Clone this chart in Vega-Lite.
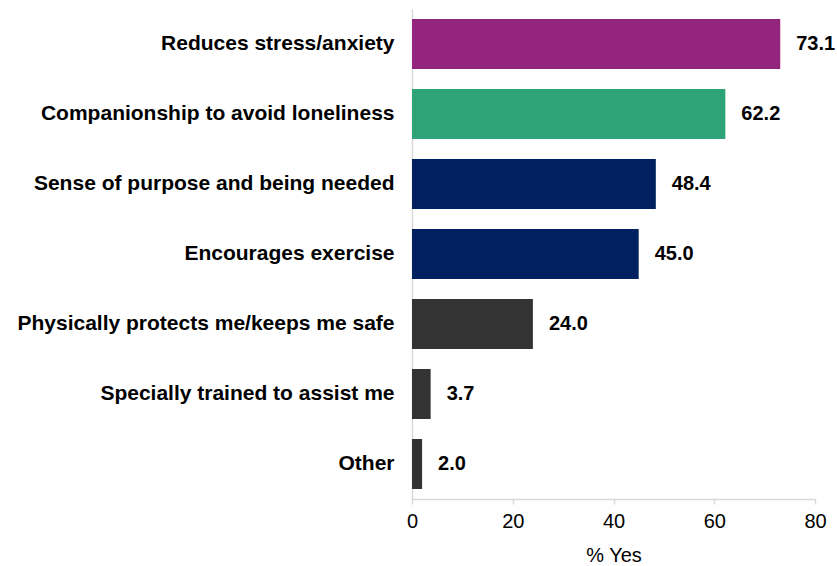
{
  "$schema": "https://vega.github.io/schema/vega-lite/v6.json",
  "width": 403,
  "height": 490,
  "padding": {"left": 16, "top": 9, "right": 0, "bottom": 0},
  "autosize": {"type": "pad"},
  "background": "white",
  "config": {"view": {"stroke": null}, "font": "Liberation Sans"},
  "data": {"values": [
    {"reason": "Reduces stress/anxiety", "pct": 73.1, "grp": "a"},
    {"reason": "Companionship to avoid loneliness", "pct": 62.2, "grp": "b"},
    {"reason": "Sense of purpose and being needed", "pct": 48.4, "grp": "c"},
    {"reason": "Encourages exercise", "pct": 45.0, "grp": "c"},
    {"reason": "Physically protects me/keeps me safe", "pct": 24.0, "grp": "d"},
    {"reason": "Specially trained to assist me", "pct": 3.7, "grp": "d"},
    {"reason": "Other", "pct": 2.0, "grp": "d"}
  ]},
  "encoding": {
    "y": {"field": "reason", "type": "nominal", "sort": null,
      "scale": {"paddingInner": 0.286, "paddingOuter": 0.143},
      "axis": {"title": null, "labelFont": "Liberation Sans", "labelFontWeight": "bold", "labelFontSize": 21, "labelColor": "#000000", "labelPadding": 18, "ticks": false, "domainColor": "#D9D9D9", "domainWidth": 1.5, "labelLimit": 500}},
    "x": {"field": "pct", "type": "quantitative",
      "scale": {"domain": [0, 80]},
      "axis": {"title": "% Yes", "values": [0, 20, 40, 60, 80], "grid": false, "labelFlush": false, "labelFontSize": 20, "labelColor": "#000000", "labelFontWeight": "normal", "titleFontSize": 20, "titleFontWeight": "normal", "titleColor": "#000000", "domainColor": "#D9D9D9", "domainWidth": 1.5, "tickColor": "#D9D9D9", "tickSize": 5, "tickWidth": 1.5, "labelPadding": 7, "titlePadding": 14}}
  },
  "layer": [
    {"mark": {"type": "bar"},
     "encoding": {"color": {"field": "grp", "type": "nominal", "legend": null,
       "scale": {"domain": ["a", "b", "c", "d"], "range": ["#93257F", "#2EA377", "#002060", "#333333"]}}}},
    {"mark": {"type": "text", "align": "left", "dx": 16, "fontSize": 20, "fontWeight": "bold", "color": "#000000", "font": "Liberation Sans"},
     "encoding": {"text": {"field": "pct", "type": "quantitative", "format": ".1f"}}}
  ]
}
